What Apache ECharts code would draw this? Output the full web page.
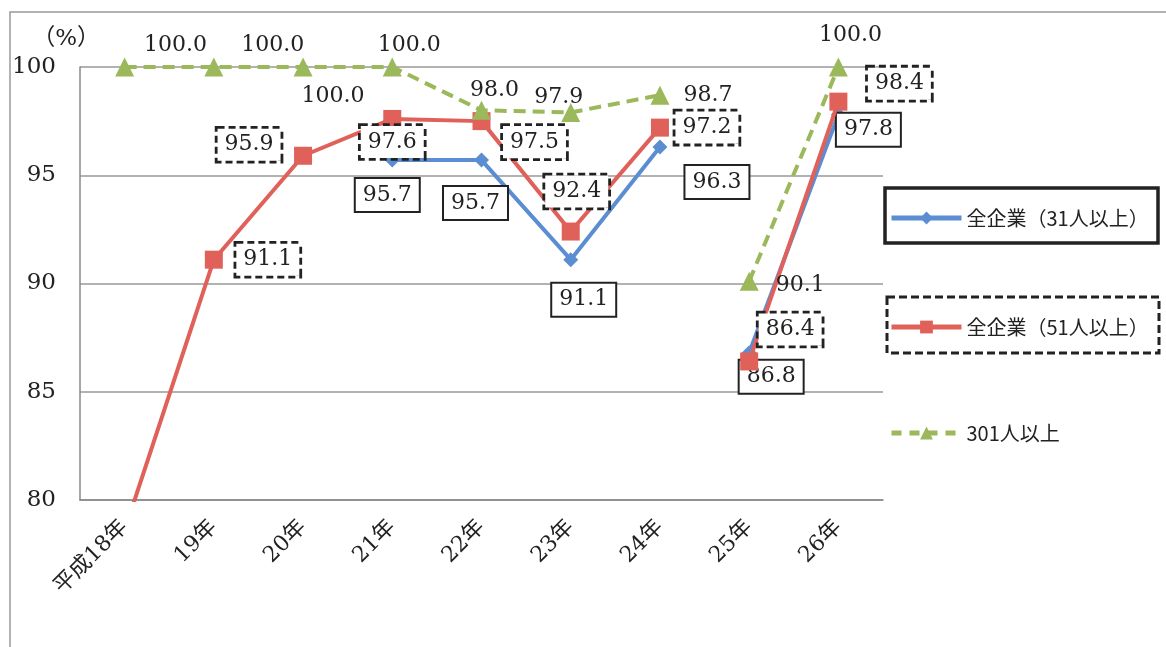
<!DOCTYPE html>
<html><head><meta charset="utf-8">
<script src="https://cdn.jsdelivr.net/npm/echarts@6/dist/echarts.min.js"></script>
<style>html,body{margin:0;padding:0;background:#fff}#c{width:1166px;height:647px}</style>
</head><body><div id="c"></div>
<script>
// ---- data ----
const categories = ['平成18年','19年','20年','21年','22年','23年','24年','25年','26年'];
const all31 = [null, null, null, 95.7, 95.7, 91.1, 96.3, 86.8, 97.8];
const all51 = [78.6, 91.1, 95.9, 97.6, 97.5, 92.4, 97.2, 86.4, 98.4];
const over301 = [100.0, 100.0, 100.0, 100.0, 98.0, 97.9, 98.7, 90.1, 100.0];
const yTicks = [80, 85, 90, 95, 100];
const seriesNames = ['全企業（31人以上）', '全企業（51人以上）', '301人以上'];
const breakIndex = 7; // survey series break between 24年 and 25年

// ---- label placement (styling, not data) ----
const off31 = [null, null, null, [-5,35], [-6,43], [13,40], [57,35], [22,24], [30,15]];
const off51 = [null, [54,0], [-54,-11], [0,23], [53,21], [6,-40], [47,0], [41,-32], [61,-18]];
const off301 = [[51,-22], [59,-22], [30,29], [17,-22], [13,-20], [-12,-15], [48,0], [51,4], [12,-32]];

const SERIF = "'DejaVu Serif', 'Liberation Serif', 'Noto Sans CJK JP', serif";
const baseLabel = {show: true, position: 'inside', color: '#222', fontFamily: SERIF, fontSize: 22};
const solidBox = {borderColor: '#222', borderWidth: 2, borderType: 'solid', padding: [6, 7, 4, 7], backgroundColor: '#fff'};
const dashBox = {borderColor: '#222', borderWidth: 2.8, borderType: [7, 4], padding: [6, 7, 4, 7], backgroundColor: '#fff'};

function build(values, offs, from, to, box) {
  return values.map((v, i) => {
    if (i < from || i > to || v == null) return null;
    const item = {value: v};
    if (offs[i]) {
      item.label = Object.assign({}, baseLabel, box || {}, {formatter: v.toFixed(1)});
    } else {
      item.label = {show: false};
    }
    return item;
  });
}

const BLUE = '#5b8dd3', RED = '#e0605a', GREEN = '#9bb85a';

function makeSeries(name, values, offs, color, symbol, size, lineStyle, box, z) {
  return [[0, breakIndex - 1], [breakIndex, categories.length - 1]].map(r => ({
    name: name, type: 'line', z: z,
    data: build(values, offs, r[0], r[1], box),
    symbol: symbol, symbolSize: size,
    itemStyle: {color: color},
    lineStyle: Object.assign({color: color, width: 4}, lineStyle),
    connectNulls: false, clip: true,
    labelLayout: function (p) {
      const o = offs[p.dataIndex];
      return o ? {dx: o[0], dy: o[1], hideOverlap: false} : {};
    },
    emphasis: {disabled: true}
  }));
}

const series = [].concat(
  makeSeries(seriesNames[0], all31, off31, BLUE, 'diamond', 15, {}, solidBox, 2),
  makeSeries(seriesNames[1], all51, off51, RED, 'rect', 18, {}, dashBox, 3),
  makeSeries(seriesNames[2], over301, off301, GREEN, 'triangle', 19, {type: [12, 7]}, null, 4)
);

const legendText = {fontFamily: "'Noto Sans CJK JP', sans-serif", fontSize: 20, color: '#222'};
function legendAt(name, top, dashed) {
  return {data: [name], left: 884, top: top, orient: 'horizontal', itemWidth: 70, itemHeight: 16, itemGap: 6,
          lineStyle: {width: 5, type: dashed ? [10, 8] : 'solid'},
          textStyle: legendText, selectedMode: false};
}

const chart = echarts.init(document.getElementById('c'), null, {renderer: 'canvas'});
chart.setOption({
  backgroundColor: '#fff',
  animation: false,
  grid: {left: 80, right: 283, top: 67, bottom: 147, containLabel: false},
  xAxis: {
    type: 'category', data: categories, boundaryGap: true,
    axisLine: {lineStyle: {color: '#888', width: 1.5}},
    axisTick: {show: false},
    axisLabel: {rotate: 45, fontFamily: SERIF, fontSize: 22, color: '#222', margin: 24, interval: 0}
  },
  yAxis: {
    type: 'value', min: yTicks[0], max: yTicks[yTicks.length - 1], interval: 5,
    name: '（%）', nameLocation: 'end', nameGap: 16,
    nameTextStyle: {fontFamily: SERIF, fontSize: 23, color: '#222', align: 'right', padding: [0, -20, 0, 0]},
    axisLine: {show: true, lineStyle: {color: '#888', width: 1.5}},
    axisTick: {show: false},
    axisLabel: {fontFamily: SERIF, fontSize: 23, color: '#222', margin: 24},
    splitLine: {lineStyle: {color: '#999', width: 1.5}}
  },
  legend: [
    legendAt(seriesNames[0], 203, false),
    legendAt(seriesNames[1], 312, false),
    legendAt(seriesNames[2], 418, true)
  ],
  graphic: [
    {type: 'rect', silent: true, z: -10, shape: {x: 10, y: 12, width: 1170, height: 650},
     style: {fill: null, stroke: '#999', lineWidth: 1.5}},
    {type: 'rect', silent: true, z: 100, shape: {x: 885, y: 188, width: 273, height: 55},
     style: {fill: null, stroke: '#222', lineWidth: 3.5}},
    {type: 'rect', silent: true, z: 100, shape: {x: 887, y: 297, width: 272, height: 56},
     style: {fill: null, stroke: '#222', lineWidth: 3, lineDash: [8, 4]}}
  ],
  series: series
});
</script>
</body></html>
